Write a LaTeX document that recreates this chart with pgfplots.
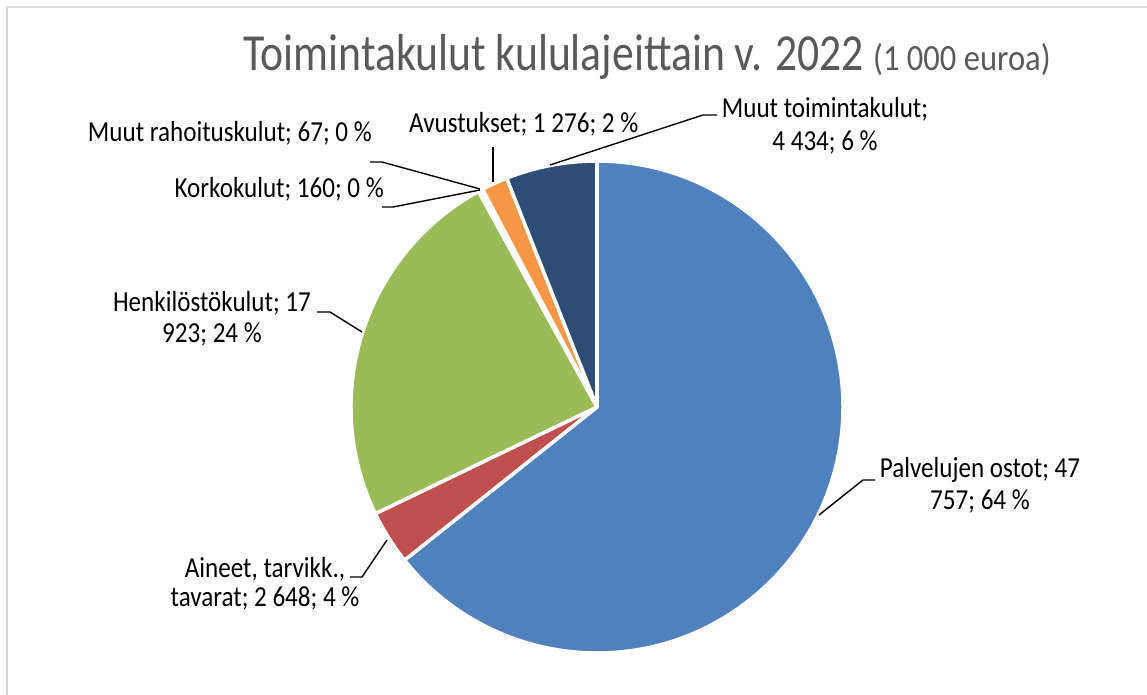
\documentclass[border=0pt]{standalone}
\usepackage{pgfplots}
\pgfplotsset{compat=1.18}
\usepackage{pgfplotstable}
\usepackage{fontspec}
\setmainfont{Carlito}
\definecolor{pie0}{HTML}{4F81BD}
\definecolor{pie1}{HTML}{C0504D}
\definecolor{pie2}{HTML}{9BBB59}
\definecolor{pie3}{HTML}{8064A2}
\definecolor{pie4}{HTML}{4BACC6}
\definecolor{pie5}{HTML}{F79646}
\definecolor{pie6}{HTML}{2C4D75}
\definecolor{titlegrey}{HTML}{595959}
\definecolor{framegrey}{HTML}{D9D9D9}
\pgfplotstableread{
value
47757
2648
17923
160
67
1276
4434
}\piedata
\newcommand\lab[1]{\scalebox{0.865}[1]{#1}}
\begin{document}
\def\total{0}%
\pgfplotsforeachungrouped \i in {0,...,6}{%
  \pgfplotstablegetelem{\i}{value}\of\piedata
  \edef\total{\the\numexpr\total+\pgfplotsretval\relax}}%
\def\cum{0}%
\pgfplotsforeachungrouped \i in {0,...,6}{%
  \pgfplotstablegetelem{\i}{value}\of\piedata
  \edef\ka{\the\numexpr 10000*\cum/\total\relax}%
  \edef\cum{\the\numexpr\cum+\pgfplotsretval\relax}%
  \edef\kb{\the\numexpr 10000*\cum/\total\relax}%
  \pgfmathsetmacro\sa{90-0.036*\ka}%
  \pgfmathsetmacro\ea{90-0.036*\kb}%
  \expandafter\xdef\csname sa\i\endcsname{\sa}%
  \expandafter\xdef\csname ea\i\endcsname{\ea}}%
\begin{tikzpicture}
\begin{axis}[x=1bp,y=1bp,xmin=0,xmax=1147,ymin=0,ymax=695,hide axis,clip=false,scale only axis]
\pgfplotsinvokeforeach{0,...,6}{
  \filldraw[draw=white, line width=3.5bp, line join=round, fill=pie#1]
    (axis cs:597,288) -- ([shift={(\csname sa#1\endcsname:246bp)}]axis cs:597,288)
    arc[start angle=\csname sa#1\endcsname, end angle=\csname ea#1\endcsname, radius=246bp] -- cycle;
}
% frame
\draw[framegrey, line width=1.5bp] (axis cs:7,0) -- (axis cs:7,688) -- (axis cs:1147,688);
% leader lines
\begin{scope}[black, line width=1.4bp]
\draw (axis cs:370,533) -- (axis cs:382,533) -- (axis cs:480,506);
\draw (axis cs:382,488) -- (axis cs:393,488) -- (axis cs:480,505);
\draw (axis cs:493,548) -- (axis cs:493,513);
\draw (axis cs:550,530) -- (axis cs:703,580) -- (axis cs:717,580);
\draw (axis cs:317,383) -- (axis cs:330,383) -- (axis cs:362,363);
\draw (axis cs:350,118) -- (axis cs:362,118) -- (axis cs:387,155);
\draw (axis cs:875,215) -- (axis cs:863,215) -- (axis cs:819,180);
\end{scope}
% title
\node[anchor=base west, inner sep=0, text=titlegrey] at (axis cs:243,624)
  {\fontsize{52bp}{52bp}\selectfont\scalebox{0.84}[1]{Toimintakulut kululajeittain v. 2022}};
\node[anchor=base west, inner sep=0, text=titlegrey] at (axis cs:873,624)
  {\fontsize{37bp}{37bp}\selectfont\scalebox{0.88}[1]{(1 000 euroa)}};
% labels
\begin{scope}[every node/.style={inner sep=0, font=\fontsize{29bp}{30bp}\selectfont}]
\node[anchor=base east] at (axis cs:372,553) {\lab{Muut rahoituskulut; 67; 0 \%}};
\node[anchor=base east] at (axis cs:384,497) {\lab{Korkokulut; 160; 0 \%}};
\node[anchor=base west] at (axis cs:409,562) {\lab{Avustukset; 1 276; 2 \%}};
\node[anchor=base] at (axis cs:825,577) {\lab{Muut toimintakulut;}};
\node[anchor=base] at (axis cs:825,544) {\lab{4 434; 6 \%}};
\node[anchor=base] at (axis cs:212,383) {\lab{Henkilöstökulut; 17}};
\node[anchor=base] at (axis cs:212,352) {\lab{923; 24 \%}};
\node[anchor=base] at (axis cs:265,117) {\lab{Aineet, tarvikk.,}};
\node[anchor=base] at (axis cs:265,88) {\lab{tavarat; 2 648; 4 \%}};
\node[anchor=base] at (axis cs:980,217) {\lab{Palvelujen ostot; 47}};
\node[anchor=base] at (axis cs:980,185) {\lab{757; 64 \%}};
\end{scope}
\end{axis}
\pgfresetboundingbox
\path[use as bounding box] (current axis.south west) rectangle (current axis.north east);
\end{tikzpicture}
\end{document}
